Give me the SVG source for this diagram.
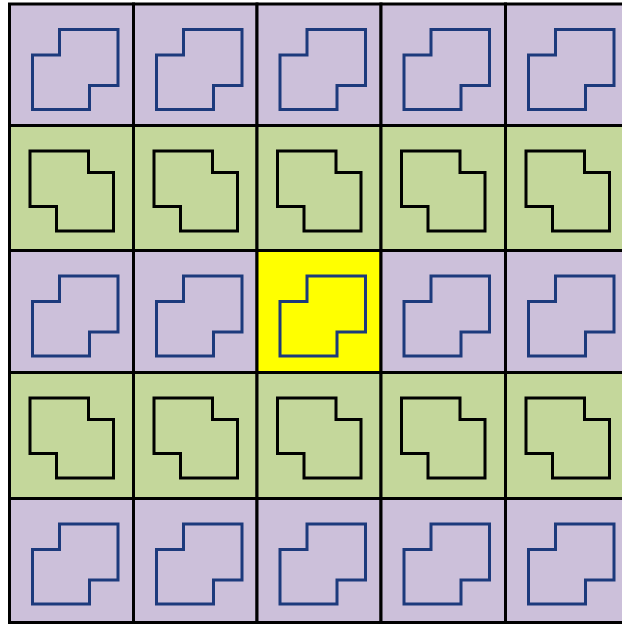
<svg xmlns="http://www.w3.org/2000/svg" xmlns:xlink="http://www.w3.org/1999/xlink" width="622" height="624" viewBox="0 0 622 624">
<style>
.cell{stroke:#000;stroke-width:3}
.pu{fill:#ccc0da}
.gr{fill:#c4d79b}
.ye{fill:#ffff00}
.sb{fill:none;stroke:#1c3a7c;stroke-width:3;stroke-linejoin:miter}
.sk{fill:none;stroke:#000;stroke-width:3;stroke-linejoin:miter}
</style>
<defs>
<path id="shB" class="sb" d="M50,25.5 H108.5 V81.5 H80 V105.5 H23 V51 H50 Z"/>
<path id="shK" class="sk" d="M20.5,25.5 H79 V47 H104 V105.5 H47 V81 H20.5 Z"/>
</defs>
<rect width="622" height="624" fill="#fff"/>
<g id="row0">
<g id="c00"><rect class="cell pu" x="9.5" y="4" width="124" height="121.5"/><use href="#shB" x="9.5" y="4"/></g>
<g id="c01"><rect class="cell pu" x="133.5" y="4" width="123.5" height="121.5"/><use href="#shB" x="133.5" y="4"/></g>
<g id="c02"><rect class="cell pu" x="257" y="4" width="124" height="121.5"/><use href="#shB" x="257" y="4"/></g>
<g id="c03"><rect class="cell pu" x="381" y="4" width="124.5" height="121.5"/><use href="#shB" x="381" y="4"/></g>
<g id="c04"><rect class="cell pu" x="505.5" y="4" width="124" height="121.5"/><use href="#shB" x="505.5" y="4"/></g>
</g>
<g id="row1">
<g id="c10"><rect class="cell gr" x="9.5" y="125.5" width="124" height="125"/><use href="#shK" x="9.5" y="125.5"/></g>
<g id="c11"><rect class="cell gr" x="133.5" y="125.5" width="123.5" height="125"/><use href="#shK" x="133.5" y="125.5"/></g>
<g id="c12"><rect class="cell gr" x="257" y="125.5" width="124" height="125"/><use href="#shK" x="257" y="125.5"/></g>
<g id="c13"><rect class="cell gr" x="381" y="125.5" width="124.5" height="125"/><use href="#shK" x="381" y="125.5"/></g>
<g id="c14"><rect class="cell gr" x="505.5" y="125.5" width="124" height="125"/><use href="#shK" x="505.5" y="125.5"/></g>
</g>
<g id="row2">
<g id="c20"><rect class="cell pu" x="9.5" y="250.5" width="124" height="122"/><use href="#shB" x="9.5" y="250.5"/></g>
<g id="c21"><rect class="cell pu" x="133.5" y="250.5" width="123.5" height="122"/><use href="#shB" x="133.5" y="250.5"/></g>
<g id="c22"><rect class="cell ye" x="257" y="250.5" width="124" height="122"/><use href="#shB" x="257" y="250.5"/></g>
<g id="c23"><rect class="cell pu" x="381" y="250.5" width="124.5" height="122"/><use href="#shB" x="381" y="250.5"/></g>
<g id="c24"><rect class="cell pu" x="505.5" y="250.5" width="124" height="122"/><use href="#shB" x="505.5" y="250.5"/></g>
</g>
<g id="row3">
<g id="c30"><rect class="cell gr" x="9.5" y="372.5" width="124" height="126"/><use href="#shK" x="9.5" y="372.5"/></g>
<g id="c31"><rect class="cell gr" x="133.5" y="372.5" width="123.5" height="126"/><use href="#shK" x="133.5" y="372.5"/></g>
<g id="c32"><rect class="cell gr" x="257" y="372.5" width="124" height="126"/><use href="#shK" x="257" y="372.5"/></g>
<g id="c33"><rect class="cell gr" x="381" y="372.5" width="124.5" height="126"/><use href="#shK" x="381" y="372.5"/></g>
<g id="c34"><rect class="cell gr" x="505.5" y="372.5" width="124" height="126"/><use href="#shK" x="505.5" y="372.5"/></g>
</g>
<g id="row4">
<g id="c40"><rect class="cell pu" x="9.5" y="498.5" width="124" height="124"/><use href="#shB" x="9.5" y="498.5"/></g>
<g id="c41"><rect class="cell pu" x="133.5" y="498.5" width="123.5" height="124"/><use href="#shB" x="133.5" y="498.5"/></g>
<g id="c42"><rect class="cell pu" x="257" y="498.5" width="124" height="124"/><use href="#shB" x="257" y="498.5"/></g>
<g id="c43"><rect class="cell pu" x="381" y="498.5" width="124.5" height="124"/><use href="#shB" x="381" y="498.5"/></g>
<g id="c44"><rect class="cell pu" x="505.5" y="498.5" width="124" height="124"/><use href="#shB" x="505.5" y="498.5"/></g>
</g>
<g id="connectors"></g>
</svg>
